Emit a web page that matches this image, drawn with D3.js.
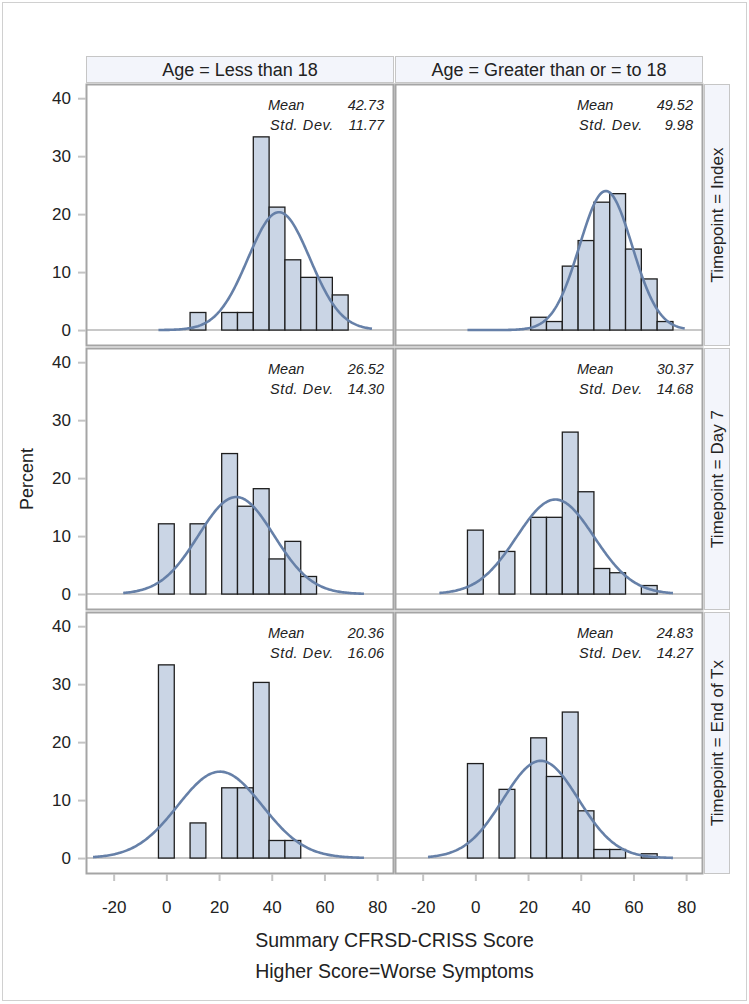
<!DOCTYPE html>
<html><head><meta charset="utf-8">
<script src="https://cdn.jsdelivr.net/npm/d3@7"></script>
<style>
body{margin:0;background:#fff;}
text{font-family:"Liberation Sans",Arial,sans-serif;fill:#222;}
</style></head>
<body><svg id="c" width="749" height="1004"></svg>
<script>
// ---- data ----
const colLabels = ["Age = Less than 18", "Age = Greater than or = to 18"];
const rowLabels = ["Timepoint = Index", "Timepoint = Day 7", "Timepoint = End of Tx"];
const binCenters = [0, 6, 12, 18, 24, 30, 36, 42, 48, 54, 60, 66, 72];
const binWidth = 6;
const pctIndexLt18  = [0, 0, 3.03, 0, 3.03, 3.03, 33.33, 21.21, 12.12, 9.09, 9.09, 6.06, 0];
const pctIndexGe18  = [0, 0, 0, 0, 2.21, 1.47, 11.03, 15.44, 22.06, 23.53, 13.97, 8.82, 1.47];
const pctDay7Lt18   = [12.12, 0, 12.12, 0, 24.24, 15.15, 18.18, 6.06, 9.09, 3.03, 0, 0, 0];
const pctDay7Ge18   = [11.03, 0, 7.35, 0, 13.24, 13.24, 27.94, 17.65, 4.41, 3.68, 0, 1.47, 0];
const pctEndLt18    = [33.33, 0, 6.06, 0, 12.12, 12.12, 30.30, 3.03, 3.03, 0, 0, 0, 0];
const pctEndGe18    = [16.30, 0, 11.85, 0, 20.74, 14.07, 25.19, 8.15, 1.48, 1.48, 0, 0.74, 0];
const means = [42.73, 49.52, 26.52, 30.37, 20.36, 24.83];
const sds   = [11.77, 9.98, 14.30, 14.68, 16.06, 14.27];
const xTicks = [-20, 0, 20, 40, 60, 80];
const yTicks = [0, 10, 20, 30, 40];
const xTitle = "Summary CFRSD-CRISS Score";
const footnote = "Higher Score=Worse Symptoms";
const yTitle = "Percent";

const panels = [pctIndexLt18, pctIndexGe18, pctDay7Lt18, pctDay7Ge18, pctEndLt18, pctEndGe18];

// ---- layout ----
const svg = d3.select("#c");
const left = 86, panelW = 308, gapX = 1;
const top0 = 84, panelH = 262, gapY = 2;
const frameCol = "#a5a5a5";

svg.append("rect").attr("x", 2.5).attr("y", 2.5).attr("width", 744).attr("height", 998)
  .attr("fill", "none").attr("stroke", "#d0d0d0").attr("stroke-width", 1);

const x = d3.scaleLinear().domain([-30.5, 86.4]).range([0, panelW]);
const y = d3.scaleLinear().domain([-2.75, 42.45]).range([panelH, 0]);

const fill = "#CAD5E5", outline = "#1e1e1e", curveCol = "#6680A8";

// column headers
colLabels.forEach((lab, c) => {
  const gx = left + c * (panelW + gapX);
  svg.append("rect").attr("x", gx + 0.5).attr("y", 56.5).attr("width", panelW - 1).attr("height", 26)
    .attr("fill", "#F3F5FB").attr("stroke", "#c6c6c6");
  svg.append("text").attr("x", gx + panelW / 2).attr("y", 76).attr("text-anchor", "middle")
    .attr("font-size", 18).text(lab);
});

// row strips
rowLabels.forEach((lab, r) => {
  const gy = top0 + r * (panelH + gapY);
  const sx = left + 2 * panelW + gapX + 1;
  svg.append("rect").attr("x", sx + 0.5).attr("y", gy + 0.5).attr("width", 25).attr("height", panelH - 1)
    .attr("fill", "#F3F5FB").attr("stroke", "#c6c6c6");
  svg.append("text").attr("transform", `translate(${sx + 19},${gy + panelH / 2}) rotate(-90)`)
    .attr("text-anchor", "middle").attr("font-size", 17).text(lab);
});

// panels
panels.forEach((vals, i) => {
  const r = Math.floor(i / 2), c = i % 2;
  const gx = left + c * (panelW + gapX), gy = top0 + r * (panelH + gapY);
  const g = svg.append("g").attr("transform", `translate(${gx},${gy})`);
  // zero reference line
  g.append("line").attr("x1", 0).attr("x2", panelW).attr("y1", y(0)).attr("y2", y(0))
    .attr("stroke", "#c8c8c8").attr("stroke-width", 2);
  const first = vals.findIndex(v => v > 0);
  const bins = binCenters.map((b, k) => ({ b, v: vals[k], k })).filter(d => d.k >= first);
  g.selectAll("rect.bar").data(bins).join("rect").attr("class", "bar")
    .attr("x", d => x(d.b - binWidth / 2)).attr("width", d => x(d.b + binWidth / 2) - x(d.b - binWidth / 2))
    .attr("y", d => y(d.v)).attr("height", d => y(0) - y(d.v))
    .attr("fill", fill).attr("stroke", outline).attr("stroke-width", 1.3);
  // normal curve
  const m = means[i], s = sds[i];
  const lo = Math.min(m - 3 * s, binCenters[0] - binWidth / 2);
  const hi = Math.max(m + 3 * s, binCenters[binCenters.length - 1] + binWidth / 2);
  const pts = d3.range(0, 201).map(t => {
    const xv = lo + (hi - lo) * t / 200;
    const dens = Math.exp(-0.5 * ((xv - m) / s) ** 2) / (s * Math.sqrt(2 * Math.PI));
    return [xv, dens * binWidth * 100];
  });
  g.append("path").attr("d", d3.line().x(d => x(d[0])).y(d => y(d[1]))(pts))
    .attr("fill", "none").attr("stroke", curveCol).attr("stroke-width", 2.6);
  // inset stats
  const st = g.append("g");
  const sty = t => t.style("font-style", "italic").style("font-size", "14.5px");
  sty(st.append("text").attr("x", panelW - 126).attr("y", 26).text("Mean"));
  sty(st.append("text").attr("x", panelW - 10).attr("y", 26).attr("text-anchor", "end").text(m.toFixed(2)));
  sty(st.append("text").attr("x", panelW - 124).attr("y", 46).attr("letter-spacing", 0.6).text("Std. Dev."));
  sty(st.append("text").attr("x", panelW - 10).attr("y", 46).attr("text-anchor", "end").text(s.toFixed(2)));
  // frame
  g.append("rect").attr("x", 0.5).attr("y", 0.5).attr("width", panelW - 1).attr("height", panelH - 1)
    .attr("fill", "none").attr("stroke", frameCol).attr("stroke-width", 2);
  // y axis on left column
  if (c === 0) {
    const ax = g.append("g").call(d3.axisLeft(y).tickValues(yTicks).tickSize(8).tickPadding(7).tickFormat(d3.format("d")));
    ax.select(".domain").remove();
    ax.selectAll("line").attr("stroke", "#c4c4c4").attr("stroke-width", 2);
    ax.selectAll("text").attr("font-size", 17).attr("fill", "#222").attr("font-family", "Liberation Sans, Arial, sans-serif");
  }
  // x axis on bottom row
  if (r === 2) {
    const ax = g.append("g").attr("transform", `translate(0,${panelH})`)
      .call(d3.axisBottom(x).tickValues(xTicks).tickSize(7).tickPadding(20).tickFormat(d3.format("d")));
    ax.select(".domain").remove();
    ax.selectAll("line").attr("stroke", "#c4c4c4").attr("stroke-width", 2);
    ax.selectAll("text").attr("font-size", 17).attr("fill", "#222").attr("font-family", "Liberation Sans, Arial, sans-serif")
      .text(d => d < 0 ? "-" + Math.abs(d) : d);
  }
});

const plotCx = left + panelW + gapX / 2;
svg.append("text").attr("x", plotCx).attr("y", 947).attr("text-anchor", "middle").attr("font-size", 19.5).text(xTitle);
svg.append("text").attr("x", plotCx).attr("y", 978).attr("text-anchor", "middle").attr("font-size", 19.5).text(footnote);
svg.append("text").attr("transform", `translate(33,${top0 + (3 * panelH + 2 * gapY) / 2}) rotate(-90)`)
  .attr("text-anchor", "middle").attr("font-size", 18).text(yTitle);
</script></body></html>
